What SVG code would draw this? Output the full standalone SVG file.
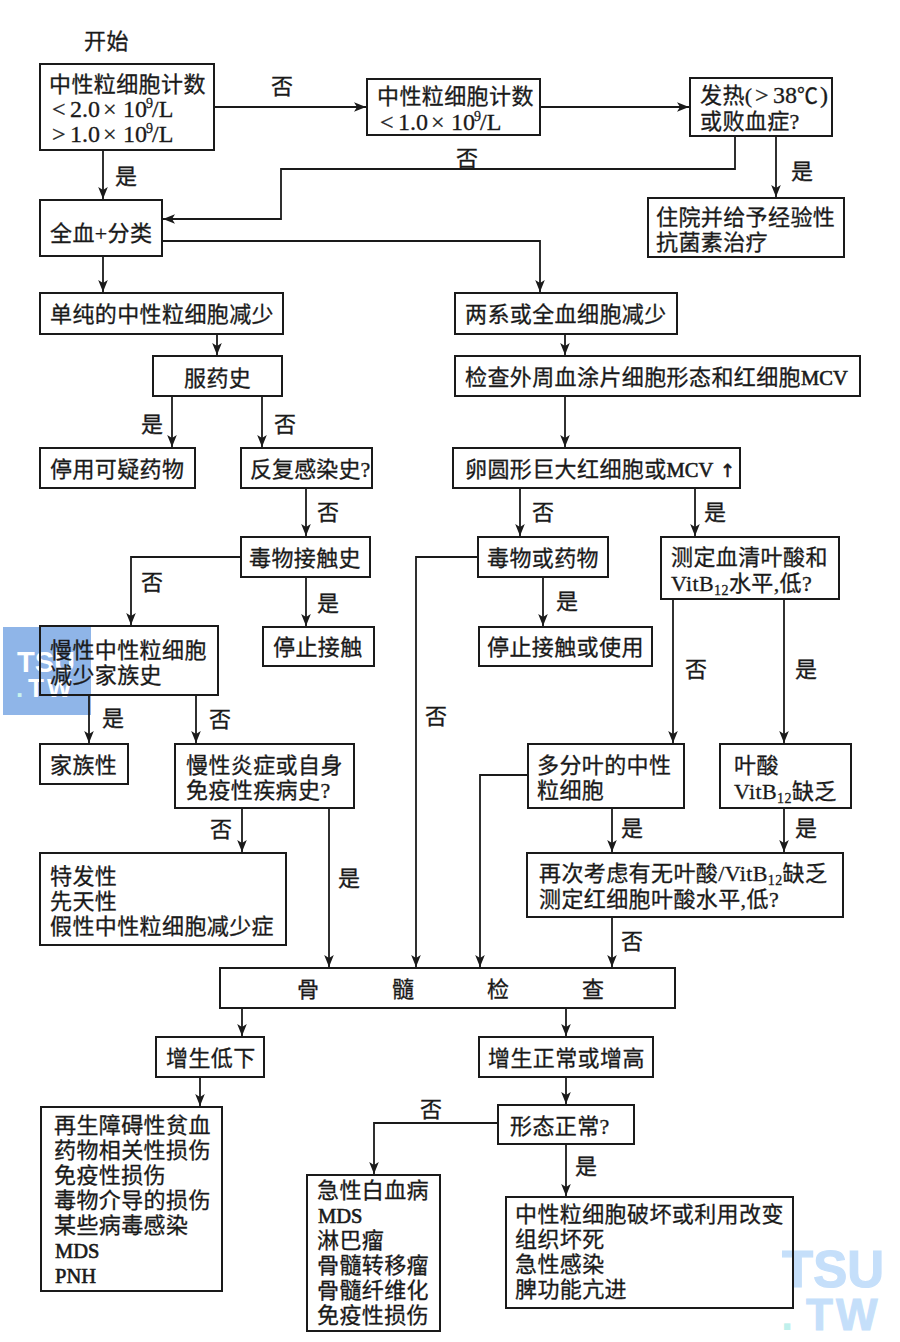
<svg xmlns="http://www.w3.org/2000/svg" width="900" height="1342" viewBox="0 0 900 1342">
<defs>
<marker id="a" markerUnits="userSpaceOnUse" markerWidth="14" markerHeight="14" refX="12" refY="7" orient="auto"><path d="M0 2.2L12 7L0 11.8L3 7Z" fill="#1a1a1a"/></marker>
</defs>
<style>
text{font-family:"Liberation Serif","Noto Sans CJK SC",serif;font-size:22px;fill:#1a1a1a;letter-spacing:.4px;stroke:#1a1a1a;stroke-width:.3px}
.box{fill:none;stroke:#1a1a1a;stroke-width:2}
.c{fill:none;stroke:#1a1a1a;stroke-width:1.8}
.a{marker-end:url(#a)}
.n{font-size:24px;letter-spacing:0}
.sup{font-size:14px}
.sub{font-size:14px}
.b{font-size:20.5px;letter-spacing:0;stroke-width:.6px}
.up{font-family:"DejaVu Sans",sans-serif;font-size:18px;stroke-width:.6px}
text.wm{font-family:"Liberation Sans",sans-serif;font-weight:700;letter-spacing:0;stroke:none}
</style>
<rect width="900" height="1342" fill="#fff"/>
<g id="watermarks">
<rect x="3" y="627" width="88" height="88" fill="#8fb5e8"/>
<text class="wm" x="17" y="672" style="font-size:29px;fill:#fff">TSU</text>
<text class="wm" x="16" y="697" style="font-size:26px;fill:#c8f2ee">.</text>
<text class="wm" x="28" y="697" style="font-size:26px;fill:#fff;letter-spacing:3px">TW</text>
<text class="wm" x="782" y="1287" style="font-size:51px;fill:#c5dffa;stroke:#c5dffa;stroke-width:1.2px">TSU</text>
<text class="wm" x="781" y="1330" style="font-size:44px;fill:#bff0ec">.</text>
<text class="wm" x="806" y="1330" style="font-size:44px;fill:#c5dffa;stroke:#c5dffa;stroke-width:1px;letter-spacing:3px">TW</text>
</g>
<g id="connectors">
<path class="c a" d="M214 107H366"/>
<path class="c a" d="M540 107H689"/>
<path class="c a" d="M776 136V197"/>
<path class="c a" d="M735 136V169H281V219H163"/>
<path class="c a" d="M103 150V199"/>
<path class="c a" d="M103 256V292"/>
<path class="c a" d="M162 241H540V292"/>
<path class="c a" d="M217 334V355"/>
<path class="c a" d="M172 396V447"/>
<path class="c a" d="M262 396V447"/>
<path class="c a" d="M306 488V536"/>
<path class="c a" d="M565 396V447"/>
<path class="c a" d="M565 334V355"/>
<path class="c a" d="M520 488V536"/>
<path class="c a" d="M695 488V536"/>
<path class="c a" d="M543 577V626"/>
<path class="c a" d="M306 577V626"/>
<path class="c a" d="M241 557H131V625"/>
<path class="c a" d="M89 695V743"/>
<path class="c a" d="M196 695V743"/>
<path class="c a" d="M242 808V852"/>
<path class="c a" d="M329 808V967"/>
<path class="c a" d="M478 557H416V967"/>
<path class="c a" d="M673 599V743"/>
<path class="c a" d="M784 599V743"/>
<path class="c a" d="M528 775H480V967"/>
<path class="c a" d="M612 808V852"/>
<path class="c a" d="M784 808V852"/>
<path class="c a" d="M612 917V967"/>
<path class="c a" d="M242 1008V1036"/>
<path class="c a" d="M200 1077V1106"/>
<path class="c a" d="M566 1008V1036"/>
<path class="c a" d="M566 1077V1104"/>
<path class="c a" d="M498 1123H374V1174"/>
<path class="c a" d="M566 1144V1196"/>
</g>
<g id="start"><text x="84" y="49">开始</text></g>
<g id="n1"><rect class="box" x="40" y="64" width="174" height="86"/><text x="49" y="92">中性粒细胞计数</text><text class="n" y="117"><tspan x="52">&lt;</tspan><tspan x="70">2.0</tspan><tspan x="103">×</tspan><tspan x="123">10</tspan><tspan class="sup" x="146" dy="-9">9</tspan><tspan x="152" dy="9">/L</tspan></text><text class="n" y="142"><tspan x="52">&gt;</tspan><tspan x="70">1.0</tspan><tspan x="103">×</tspan><tspan x="123">10</tspan><tspan class="sup" x="146" dy="-9">9</tspan><tspan x="152" dy="9">/L</tspan></text></g>
<g id="n2"><rect class="box" x="367" y="79" width="173" height="56"/><text x="377" y="104">中性粒细胞计数</text><text class="n" y="130"><tspan x="380">&lt;</tspan><tspan x="398">1.0</tspan><tspan x="431">×</tspan><tspan x="451">10</tspan><tspan class="sup" x="474" dy="-9">9</tspan><tspan x="480" dy="9">/L</tspan></text></g>
<g id="n3"><rect class="box" x="690" y="78" width="142" height="58"/><text y="103"><tspan x="700">发热(</tspan><tspan class="n" x="755">&gt;</tspan><tspan class="n" x="773">38</tspan><tspan x="797" style="font-size:21px">℃</tspan><tspan class="n" x="820">)</tspan></text><text x="700" y="129">或败血症?</text></g>
<g id="n4"><rect class="box" x="40" y="200" width="122" height="56"/><text x="50" y="241">全血+分类</text></g>
<g id="n5"><rect class="box" x="648" y="198" width="196" height="59"/><text x="656" y="225">住院并给予经验性</text><text x="656" y="250">抗菌素治疗</text></g>
<g id="n6"><rect class="box" x="40" y="293" width="243" height="41"/><text x="50" y="322">单纯的中性粒细胞减少</text></g>
<g id="n7"><rect class="box" x="455" y="293" width="222" height="41"/><text x="465" y="322">两系或全血细胞减少</text></g>
<g id="n8"><rect class="box" x="153" y="356" width="129" height="40"/><text x="184" y="386">服药史</text></g>
<g id="n9"><rect class="box" x="455" y="356" width="405" height="40"/><text x="465" y="385">检查外周血涂片细胞形态和红细胞<tspan class="b">MCV</tspan></text></g>
<g id="n10"><rect class="box" x="40" y="448" width="155" height="40"/><text x="50" y="477">停用可疑药物</text></g>
<g id="n11"><rect class="box" x="241" y="448" width="131" height="40"/><text x="250" y="477" style="letter-spacing:.1px">反复感染史?</text></g>
<g id="n12"><rect class="box" x="453" y="448" width="287" height="40"/><text x="465" y="477">卵圆形巨大红细胞或<tspan class="b">MCV</tspan></text><text class="up" x="720" y="477">↑</text></g>
<g id="n13"><rect class="box" x="241" y="537" width="129" height="40"/><text x="249" y="566">毒物接触史</text></g>
<g id="n14"><rect class="box" x="478" y="537" width="130" height="40"/><text x="487" y="566">毒物或药物</text></g>
<g id="n15"><rect class="box" x="661" y="537" width="178" height="62"/><text x="671" y="565">测定血清叶酸和</text><text x="671" y="591">VitB<tspan class="sub" dy="4">12</tspan><tspan dy="-4">水平,低?</tspan></text></g>
<g id="n16"><rect class="box" x="40" y="626" width="178" height="69"/><text x="50" y="658">慢性中性粒细胞</text><text x="50" y="683">减少家族史</text></g>
<g id="n17"><rect class="box" x="263" y="627" width="111" height="39"/><text x="273" y="655">停止接触</text></g>
<g id="n18"><rect class="box" x="479" y="627" width="173" height="39"/><text x="487" y="655">停止接触或使用</text></g>
<g id="n19"><rect class="box" x="40" y="744" width="88" height="40"/><text x="50" y="773">家族性</text></g>
<g id="n20"><rect class="box" x="175" y="744" width="179" height="64"/><text x="186" y="773">慢性炎症或自身</text><text x="186" y="798">免疫性疾病史?</text></g>
<g id="n21"><rect class="box" x="528" y="744" width="156" height="64"/><text x="537" y="773">多分叶的中性</text><text x="537" y="798">粒细胞</text></g>
<g id="n22"><rect class="box" x="720" y="744" width="131" height="64"/><text x="734" y="773">叶酸</text><text x="734" y="799">VitB<tspan class="sub" dy="4">12</tspan><tspan dy="-4">缺乏</tspan></text></g>
<g id="n23"><rect class="box" x="40" y="853" width="246" height="92"/><text x="50" y="884">特发性</text><text x="50" y="909">先天性</text><text x="50" y="934">假性中性粒细胞减少症</text></g>
<g id="n24"><rect class="box" x="527" y="853" width="316" height="64"/><text x="539" y="881">再次考虑有无叶酸/VitB<tspan class="sub" dy="4">12</tspan><tspan dy="-4">缺乏</tspan></text><text x="539" y="907">测定红细胞叶酸水平,低?</text></g>
<g id="n25"><rect class="box" x="220" y="968" width="455" height="40"/><text x="297" y="997">骨</text><text x="392" y="997">髓</text><text x="487" y="997">检</text><text x="582" y="997">查</text></g>
<g id="n26"><rect class="box" x="156" y="1037" width="108" height="40"/><text x="166" y="1066">增生低下</text></g>
<g id="n27"><rect class="box" x="479" y="1037" width="174" height="40"/><text x="488" y="1066">增生正常或增高</text></g>
<g id="n28"><rect class="box" x="41" y="1107" width="181" height="184"/><text x="54" y="1133">再生障碍性贫血</text><text x="54" y="1158">药物相关性损伤</text><text x="54" y="1183">免疫性损伤</text><text x="54" y="1208">毒物介导的损伤</text><text x="54" y="1233">某些病毒感染</text><text class="b" x="55" y="1258">MDS</text><text class="b" x="55" y="1283">PNH</text></g>
<g id="n29"><rect class="box" x="498" y="1105" width="136" height="39"/><text x="510" y="1134">形态正常?</text></g>
<g id="n30"><rect class="box" x="307" y="1175" width="133" height="156"/><text x="317" y="1198">急性白血病</text><text class="b" x="318" y="1223">MDS</text><text x="317" y="1248">淋巴瘤</text><text x="317" y="1273">骨髓转移瘤</text><text x="317" y="1298">骨髓纤维化</text><text x="317" y="1323">免疫性损伤</text></g>
<g id="n31"><rect class="box" x="506" y="1197" width="287" height="111"/><text x="515" y="1222">中性粒细胞破坏或利用改变</text><text x="515" y="1247">组织坏死</text><text x="515" y="1272">急性感染</text><text x="515" y="1297">脾功能亢进</text></g>
<g id="labels">
<text x="271" y="94">否</text><text x="456" y="166">否</text><text x="115" y="184">是</text><text x="791" y="179">是</text>
<text x="141" y="432">是</text><text x="274" y="432">否</text><text x="317" y="520">否</text><text x="532" y="520">否</text><text x="704" y="520">是</text>
<text x="141" y="590">否</text><text x="317" y="611">是</text><text x="556" y="609">是</text><text x="685" y="677">否</text><text x="795" y="677">是</text>
<text x="102" y="726">是</text><text x="209" y="727">否</text><text x="425" y="724">否</text><text x="210" y="837">否</text><text x="338" y="886">是</text>
<text x="621" y="836">是</text><text x="795" y="836">是</text><text x="621" y="949">否</text><text x="420" y="1117">否</text><text x="575" y="1174">是</text>
</g>
</svg>
